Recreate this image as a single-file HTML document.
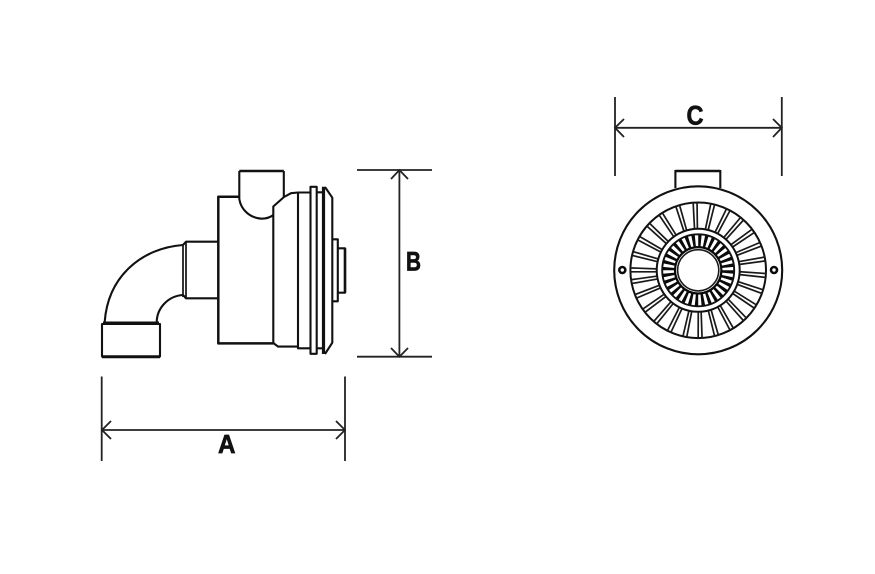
<!DOCTYPE html>
<html>
<head>
<meta charset="utf-8">
<style>
html,body{margin:0;padding:0;background:#fff;width:875px;height:574px;overflow:hidden}
svg{display:block}
text{font-family:"Liberation Sans",sans-serif;font-weight:bold;fill:#111;stroke:#111;stroke-width:.7}
</style>
</head>
<body>
<svg width="875" height="574" viewBox="0 0 875 574" xmlns="http://www.w3.org/2000/svg" xmlns:xlink="http://www.w3.org/1999/xlink">
<defs>
<g id="r" fill="none" stroke="#1a1a1a" stroke-width="1.7"><path d="M-1.5 -42V-68M1.4 -42L2.4 -68"/></g>
</defs>
<g fill="none" stroke="#111" stroke-width="2.1" stroke-linejoin="round">
<!-- elbow -->
<rect x="102" y="324" width="58" height="32.5"/>
<path d="M102 356.7H160" stroke-width="3"/>
<path d="M103 322.3H159" stroke-width="1.6"/>
<path d="M104.7 322C108 276 142 248 183 245"/>
<path d="M156.7 322C157 308 168 296 183 295"/>
<path d="M183 244V297M186 242.5V298.5" stroke-width="1.7"/>
<path d="M183 245L186 241.7H218M183 295L186 298.3H218"/>
<!-- body -->
<path d="M239.5 196.7H218.3V343.4H273.3" stroke-width="2.5"/>
<path d="M239.3 171V199C241 210 250 218 261.7 218.7C266 218.7 270 217.5 273.3 215"/>
<path d="M239.3 171H283.8" stroke-width="2.6"/>
<path d="M283.8 171V197"/>
<path d="M273.3 343V206.5L284 197L291 193.2L298 192.5H310.3"/>
<path d="M273.3 343L278 346.6H298V348.3H310.3"/>
<path d="M298 192.5V348.3"/>
<rect x="310.5" y="186.8" width="6.2" height="167"/>
<path d="M316.7 192.3H323M316.7 348.3H323"/>
<path d="M323.5 186.7V354" stroke-width="3.2"/>
<path d="M325 187L332.3 197.7V342.7L325 354"/>
<path d="M332.3 239.3H337.8V301.3H332.3"/>
<path d="M337.8 248.3H345V292.7H337.8"/>
<path d="M345 248.3V292.7" stroke-width="2.6"/>
</g>
<!-- dimensions -->
<g fill="none" stroke="#222" stroke-width="1.8">
<path d="M101.7 376.5V461M345 376.5V461M102 430H345"/>
<path d="M111 421L102 430L111 439M336 421L345 430L336 439"/>
<path d="M357 170H432M357 356.7H432M399.4 170V356.7"/>
<path d="M391 179L399.4 170L408 179M391 348L399.4 356.7L408 348"/>
<path d="M615 97V176M781.8 97V176M615 127.8H781.8"/>
<path d="M624 119L615 127.8L624 137M773 119L781.8 127.8L773 137"/>
</g>
<text x="226.7" y="453" font-size="26" text-anchor="middle" textLength="17.5" lengthAdjust="spacingAndGlyphs">A</text>
<text x="413.5" y="270.5" font-size="27" text-anchor="middle" textLength="15" lengthAdjust="spacingAndGlyphs">B</text>
<text x="695" y="124.5" font-size="27" text-anchor="middle" textLength="17" lengthAdjust="spacingAndGlyphs">C</text>
<!-- front view -->
<g fill="none" stroke="#111">
<path d="M675.4 188V171H720.3V188" stroke-width="2.1"/>
<path d="M675.4 171H720.3" stroke-width="2.4"/>
<circle cx="698.2" cy="270.3" r="84" stroke-width="2.1"/>
<circle cx="698.2" cy="270.3" r="67.8" stroke-width="2"/>
<circle cx="698.2" cy="270.3" r="41.5" stroke-width="2"/>
<circle cx="698.2" cy="270.3" r="36" stroke-width="1.9"/>
<circle cx="698.2" cy="270.3" r="29.5" stroke="#0a0a0a" stroke-width="12" pathLength="32" stroke-dasharray=".5 .5"/>
<circle cx="698.2" cy="270.3" r="23.2" stroke="#0a0a0a" stroke-width="2.2"/>
<circle cx="698.2" cy="270.3" r="20.6" stroke="#1a1a1a" stroke-width="1.6"/>
<circle cx="622.3" cy="270" r="3" stroke="#0a0a0a" stroke-width="2.6"/>
<circle cx="774" cy="270" r="3" stroke="#0a0a0a" stroke-width="2.6"/>
</g>
<g transform="translate(698.2 270.3)">
<use xlink:href="#r" href="#r" transform="rotate(-90)"/>
<use xlink:href="#r" href="#r" transform="rotate(-76)"/>
<use xlink:href="#r" href="#r" transform="rotate(-62)"/>
<use xlink:href="#r" href="#r" transform="rotate(-48)"/>
<use xlink:href="#r" href="#r" transform="rotate(-34)"/>
<use xlink:href="#r" href="#r" transform="rotate(-18)"/>
<use xlink:href="#r" href="#r" transform="rotate(-3)"/>
<use xlink:href="#r" href="#r" transform="rotate(12)"/>
<use xlink:href="#r" href="#r" transform="rotate(26)"/>
<use xlink:href="#r" href="#r" transform="rotate(40)"/>
<use xlink:href="#r" href="#r" transform="rotate(54)"/>
<use xlink:href="#r" href="#r" transform="rotate(67)"/>
<use xlink:href="#r" href="#r" transform="rotate(80)"/>
<use xlink:href="#r" href="#r" transform="rotate(94)"/>
<use xlink:href="#r" href="#r" transform="rotate(108)"/>
<use xlink:href="#r" href="#r" transform="rotate(122)"/>
<use xlink:href="#r" href="#r" transform="rotate(136)"/>
<use xlink:href="#r" href="#r" transform="rotate(150)"/>
<use xlink:href="#r" href="#r" transform="rotate(164)"/>
<use xlink:href="#r" href="#r" transform="rotate(178)"/>
<use xlink:href="#r" href="#r" transform="rotate(191)"/>
<use xlink:href="#r" href="#r" transform="rotate(205)"/>
<use xlink:href="#r" href="#r" transform="rotate(219)"/>
<use xlink:href="#r" href="#r" transform="rotate(233)"/>
<use xlink:href="#r" href="#r" transform="rotate(247)"/>
<use xlink:href="#r" href="#r" transform="rotate(260)"/>
</g>
</svg>
</body>
</html>
